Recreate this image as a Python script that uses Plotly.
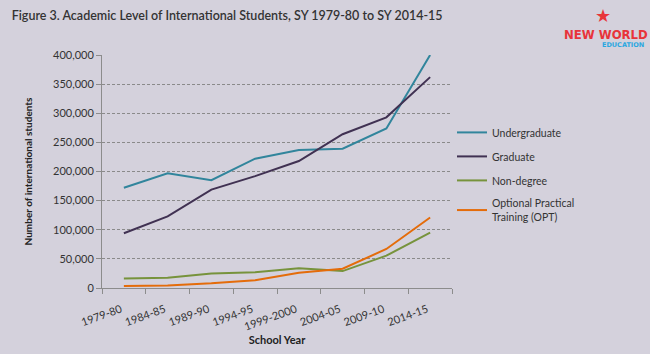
import plotly.graph_objects as go

years = ["1979-80", "1984-85", "1989-90", "1994-95", "1999-2000", "2004-05", "2009-10", "2014-15"]
undergrad = [172000, 197000, 185000, 222000, 237000, 239000, 274000, 400000]
graduate = [94000, 123000, 169000, 192000, 218000, 264000, 293000, 362000]
nondegree = [16500, 17500, 25000, 27000, 34000, 29000, 55500, 95000]
opt = [3500, 4500, 8000, 13500, 26000, 33000, 67000, 121000]

names = ["Undergraduate", "Graduate", "Non-degree", "Optional Practical<br>Training (OPT)"]
colors = ["#31859c", "#403152", "#77933c", "#e46c0a"]
series = [undergrad, graduate, nondegree, opt]

BG = "#d4d1dc"
fig = go.Figure()
for i, (n, c, s) in enumerate(zip(names, colors, series)):
    fig.add_trace(go.Scatter(x=years, y=s, mode="lines", name=n, legendgroup=str(i),
                             line=dict(color=c, width=2)))

fig.update_layout(
    width=650, height=354,
    margin=dict(l=102, r=198, t=55, b=66),
    paper_bgcolor=BG, plot_bgcolor=BG,
    font=dict(family="Lato, sans-serif", color="#333333", size=11),
    showlegend=True,
    legend=dict(x=1.0, y=0.73, xanchor="left", yanchor="top", bgcolor="rgba(0,0,0,0)",
                font=dict(size=10.5, color="#333333"), traceorder="grouped", tracegroupgap=5),
    xaxis=dict(type="category", range=[-0.5, 7.5], tickangle=-20, showline=True, linecolor="#8c8c8c", linewidth=1,
               ticks="outside", tickson="boundaries", ticklen=5, tickcolor="#8c8c8c", automargin=False,
               ticklabelstandoff=10, ticklabelshift=-3,
               showgrid=False, tickfont=dict(size=11, color="#333333"),
               title=dict(text="<b>School Year</b>", font=dict(size=11, color="#222222"), standoff=2)),
    yaxis=dict(range=[0, 400000], tickvals=[0, 50000, 100000, 150000, 200000, 250000, 300000, 350000, 400000],
               tickformat=",", showline=True, linecolor="#8c8c8c", linewidth=1, automargin=False,
               ticks="outside", ticklen=5, tickcolor="#8c8c8c",
               showgrid=True, gridcolor="#8a8a8a", griddash="3px,2px", gridwidth=1,
               zeroline=False, tickfont=dict(size=11, color="#333333"),
               title=dict(text="<b>Number of international students</b>", font=dict(size=10, color="#222222"), standoff=18)),
    title=dict(text="Figure 3. Academic Level of International Students, SY 1979-80 to SY 2014-15",
               x=0.018, xanchor="left", y=0.955, yanchor="middle",
               font=dict(family="Lato, sans-serif", size=12.5, color="#333333", weight=600)),
)

fig.add_annotation(xref="paper", yref="paper", x=1.44, y=1.086, xanchor="center", yanchor="middle",
                   text="<b>NEW WORLD</b>", showarrow=False,
                   font=dict(family="Liberation Sans Narrow, DejaVu Sans Condensed, sans-serif", size=13, color="#e8343a"))
fig.add_annotation(xref="paper", yref="paper", x=1.489, y=1.043, xanchor="center", yanchor="middle",
                   text="<b>EDUCATION</b>", showarrow=False,
                   font=dict(family="DejaVu Sans, sans-serif", size=6.5, color="#2aa7e0"))
fig.add_annotation(xref="paper", yref="paper", x=1.431, y=1.17, xanchor="center", yanchor="middle",
                   text="★", showarrow=False,
                   font=dict(family="DejaVu Sans, sans-serif", size=18, color="#e8343a"))

fig.write_html("out.html")
